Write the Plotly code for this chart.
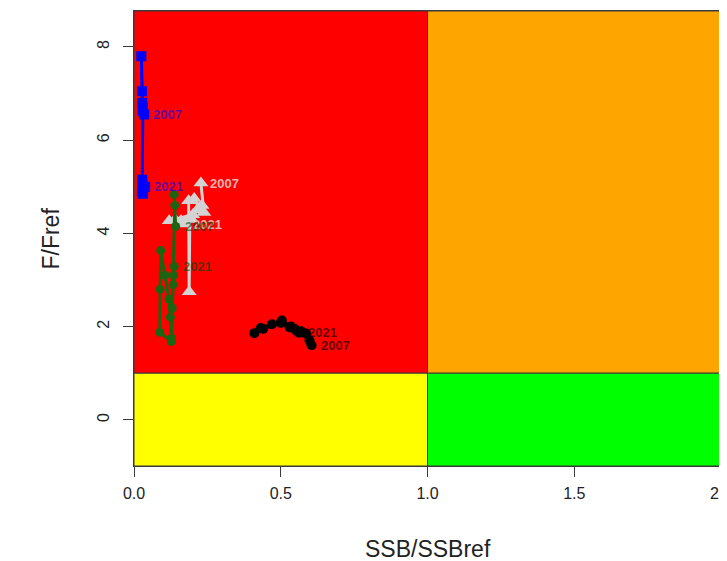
import plotly.graph_objects as go

years = list(range(2007, 2022))

blue_ssb = [0.035, 0.030, 0.028, 0.027, 0.025, 0.030, 0.028, 0.031, 0.030, 0.028, 0.027, 0.030, 0.028, 0.030, 0.038]
blue_f = [6.55, 6.70, 6.80, 7.05, 7.80, 6.62, 5.15, 4.87, 4.95, 5.05, 4.90, 4.85, 5.10, 4.95, 5.00]

gray_ssb = [0.228, 0.238, 0.222, 0.205, 0.186, 0.188, 0.190, 0.160, 0.120, 0.140, 0.200, 0.215, 0.232, 0.190, 0.172]
gray_f = [5.08, 4.45, 4.55, 4.75, 4.70, 2.75, 4.30, 4.27, 4.27, 4.30, 4.40, 4.50, 4.60, 4.35, 4.20]

green_ssb = [0.142, 0.137, 0.139, 0.127, 0.088, 0.089, 0.091, 0.105, 0.119, 0.124, 0.128, 0.130, 0.133, 0.135, 0.137]
green_f = [4.15, 4.83, 4.60, 1.68, 1.88, 2.80, 3.63, 3.10, 2.59, 2.20, 1.75, 2.40, 2.90, 3.10, 3.29]

black_ssb = [0.605, 0.598, 0.586, 0.570, 0.548, 0.535, 0.504, 0.470, 0.432, 0.410, 0.440, 0.500, 0.530, 0.555, 0.563]
black_f = [1.60, 1.70, 1.85, 1.90, 1.95, 2.00, 2.13, 2.05, 1.97, 1.86, 1.95, 2.08, 1.98, 1.90, 1.87]

x_ticks = [0.0, 0.5, 1.0, 1.5, 2.0]
x_tick_labels = ["0.0", "0.5", "1.0", "1.5", "2.0"]
y_ticks = [0, 2, 4, 6, 8]
y_tick_labels = ["0", "2", "4", "6", "8"]

x_range = [0, 2]
y_range = [-0.99, 8.77]

fig = go.Figure()

edge = "#3a3a3a"
quads = [
    (0, 1, 1, y_range[1], "#FF0000"),
    (1, 2, 1, y_range[1], "#FFA500"),
    (0, 1, y_range[0], 1, "#FFFF00"),
    (1, 2, y_range[0], 1, "#00FF00"),
]
for x0, x1, y0, y1, c in quads:
    fig.add_shape(type="rect", x0=x0, x1=x1, y0=y0, y1=y1, fillcolor=c,
                  line=dict(color=edge, width=1), layer="below")

series = [
    (black_ssb, black_f, "#000000", "circle", 10, "rgba(0,0,0,0.62)"),
    (blue_ssb, blue_f, "#0000FF", "square", 10, "rgba(0,0,255,0.62)"),
    (gray_ssb, gray_f, "#D3D3D3", "triangle-up", 13, "rgba(232,232,232,0.75)"),
    (green_ssb, green_f, "#1B6410", "circle", 9, "rgba(0,70,0,0.62)"),
]

for xs, ys, col, sym, ms, tcol in series:
    fig.add_trace(go.Scatter(
        x=xs, y=ys, mode="lines+markers",
        line=dict(color=col, width=3),
        marker=dict(color=col, symbol=sym, size=ms),
        showlegend=False, hoverinfo="skip"))

for xs, ys, col, sym, ms, tcol in series:
    for i in (0, -1):
        fig.add_annotation(x=xs[i], y=ys[i], text=str(years[i]),
                           xanchor="left", yanchor="middle", xshift=7,
                           showarrow=False,
                           font=dict(family="Liberation Sans, Arial", size=13,
                                     color=tcol, weight="bold"))

axis_font = dict(family="Liberation Sans, Arial", size=16, color="#222222")

fig.update_xaxes(range=x_range, tickvals=x_ticks, ticktext=x_tick_labels,
                 ticks="outside", ticklen=10, tickcolor=edge, tickwidth=1,
                 showline=True, linecolor=edge, linewidth=1, mirror=True,
                 showgrid=False, zeroline=False, tickfont=axis_font,
                 ticklabelstandoff=3, ticklabeloverflow="allow",
                 automargin=False)
fig.update_yaxes(range=y_range, tickvals=y_ticks, ticktext=y_tick_labels,
                 ticks="outside", ticklen=10, tickcolor=edge, tickwidth=1,
                 showline=True, linecolor=edge, linewidth=1, mirror=True,
                 showgrid=False, zeroline=False, tickfont=axis_font,
                 tickangle=-90, ticklabelstandoff=8, automargin=False)

title_font = dict(family="Liberation Sans, Arial", size=23, color="#222222")
fig.add_annotation(text="SSB/SSBref", xref="paper", yref="paper",
                   x=0.5, y=-0.182, yanchor="middle", xanchor="center",
                   showarrow=False, font=title_font)
fig.add_annotation(text="F/Fref", xref="paper", yref="paper",
                   x=-0.143, y=0.5, xanchor="center", yanchor="middle",
                   textangle=-90, showarrow=False, font=title_font)

# page body has an 8px margin, so the figure is sized to fit the window
fig.update_layout(width=719, height=553,
                  margin=dict(l=126, r=6, t=3, b=95),
                  paper_bgcolor="white", plot_bgcolor="white")

fig.write_html("out.html")
